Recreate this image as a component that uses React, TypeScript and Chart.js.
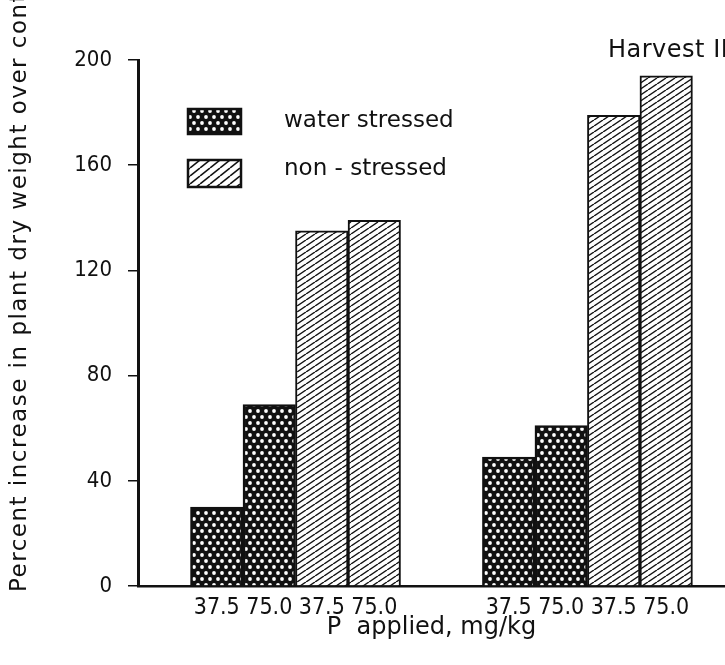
import React, { useEffect, useRef } from "react";
import { Chart, registerables } from "chart.js";

Chart.register(...registerables);

// ---- data ----
const doseLabels = ["37.5", "75.0"];
const treatments = ["water stressed", "non - stressed"];
// values per group: [37.5, 75.0]
const waterStressed = [
  [30, 69],
  [49, 61],
];
const nonStressed = [
  [135, 139],
  [179, 194],
];
const yTicks = [0, 40, 80, 120, 160, 200];
const yTitle = "Percent increase in plant dry weight over control";
const xTitle = "P  applied, mg/kg";
const harvestLabel = "Harvest II";

// ---- layout constants (bar units on the x axis) ----
const LEAD = 1.0;
const GROUP_GAP = 1.56;
const X_MAX = 11.18;
const BARS_PER_GROUP = 4;

const barX = (group: number, slot: number) =>
  LEAD + group * (BARS_PER_GROUP + GROUP_GAP) + slot + 0.5;

const FONT_COND = '"DejaVu Sans Condensed", "Liberation Sans Narrow", "DejaVu Sans", sans-serif';
const FONT = '"DejaVu Sans", sans-serif';

function makeDotPattern(): CanvasPattern | string {
  const c = document.createElement("canvas");
  c.width = 8;
  c.height = 12;
  const g = c.getContext("2d");
  if (!g) return "#111";
  g.fillStyle = "#111";
  g.fillRect(0, 0, 8, 12);
  g.fillStyle = "#fff";
  const dots = [
    [2, 3],
    [6, 9],
  ];
  dots.forEach(([x, y]) => {
    g.beginPath();
    g.arc(x, y, 1.9, 0, Math.PI * 2);
    g.fill();
  });
  return g.createPattern(c, "repeat") as CanvasPattern;
}

function makeHatchPattern(W: number, H: number, lw: number): CanvasPattern | string {
  const c = document.createElement("canvas");
  c.width = W;
  c.height = H;
  const g = c.getContext("2d");
  if (!g) return "#fff";
  g.fillStyle = "#fff";
  g.fillRect(0, 0, W, H);
  g.strokeStyle = "#111";
  g.lineWidth = lw;
  [-W, 0, W].forEach((dx) => {
    g.beginPath();
    g.moveTo(dx, H);
    g.lineTo(dx + W, 0);
    g.stroke();
  });
  return g.createPattern(c, "repeat") as CanvasPattern;
}

export default function App() {
  const ref = useRef<HTMLCanvasElement | null>(null);

  useEffect(() => {
    document.body.style.margin = "0";
    document.body.style.overflow = "hidden";
    document.body.style.background = "#fff";
    const canvas = ref.current;
    if (!canvas) return;

    const dotPat = makeDotPattern();
    const hatchPat = makeHatchPattern(9, 6, 1.4);
    const legendHatch = makeHatchPattern(10, 8, 1.6);

    const wsData: { x: number; y: number }[] = [];
    const nsData: { x: number; y: number }[] = [];
    const tickLabelMap = new Map<number, string>();
    waterStressed.forEach((vals, g) => {
      vals.forEach((v, i) => {
        const x = barX(g, i);
        wsData.push({ x, y: v });
        tickLabelMap.set(x, doseLabels[i]);
      });
    });
    nonStressed.forEach((vals, g) => {
      vals.forEach((v, i) => {
        const x = barX(g, doseLabels.length + i);
        nsData.push({ x, y: v });
        tickLabelMap.set(x, doseLabels[i]);
      });
    });
    const tickXs = Array.from(tickLabelMap.keys()).sort((a, b) => a - b);

    const overlay = {
      id: "overlay",
      afterDraw(chart: any) {
        const ctx = chart.ctx as CanvasRenderingContext2D & { letterSpacing?: string };
        ctx.save();
        // y title
        ctx.save();
        ctx.translate(20, 592);
        ctx.rotate(-Math.PI / 2);
        ctx.font = `23px ${FONT}`;
        ctx.letterSpacing = "1.5px";
        ctx.fillStyle = "#111";
        ctx.textAlign = "left";
        ctx.textBaseline = "middle";
        ctx.fillText(yTitle, 0, 0);
        ctx.restore();

        // harvest label
        ctx.font = `24px ${FONT}`;
        ctx.letterSpacing = "0.5px";
        ctx.fillStyle = "#111";
        ctx.textAlign = "left";
        ctx.textBaseline = "middle";
        ctx.fillText(harvestLabel, 608, 51);
        ctx.letterSpacing = "0px";

        // legend
        const items = [
          { fill: dotPat, y: 109, h: 25, label: treatments[0], ty: 121 },
          { fill: legendHatch, y: 160, h: 27, label: treatments[1], ty: 169 },
        ];
        items.forEach((it) => {
          ctx.fillStyle = it.fill as any;
          ctx.fillRect(188, it.y, 53, it.h);
          ctx.strokeStyle = "#111";
          ctx.lineWidth = 2.5;
          ctx.strokeRect(188, it.y, 53, it.h);
          ctx.fillStyle = "#111";
          ctx.font = `23px ${FONT}`;
          ctx.textAlign = "left";
          ctx.textBaseline = "middle";
          ctx.fillText(it.label, 284, it.ty);
        });
        ctx.restore();
      },
    };

    const chart = new Chart(canvas, {
      type: "bar",
      data: {
        datasets: [
          {
            label: treatments[0],
            data: wsData,
            backgroundColor: dotPat as any,
            borderColor: "#111",
            borderWidth: 2.5,
          },
          {
            label: treatments[1],
            data: nsData,
            backgroundColor: hatchPat as any,
            borderColor: "#111",
            borderWidth: 2,
          },
        ],
      },
      options: {
        animation: false,
        responsive: true,
        maintainAspectRatio: false,
        layout: { padding: { top: 60, left: 0, right: 0, bottom: 0 } },
        plugins: {
          legend: { display: false },
          tooltip: { enabled: false },
        },
        datasets: {
          bar: {
            grouped: false,
            barPercentage: 1,
            categoryPercentage: 1,
          },
        },
        scales: {
          x: {
            type: "linear",
            min: 0,
            max: X_MAX,
            offset: false,
            grid: { display: false, drawTicks: false, drawOnChartArea: false },
            border: { display: true, color: "#111", width: 2.5 },
            afterBuildTicks: (scale: any) => {
              scale.ticks = tickXs.map((v) => ({ value: v }));
            },
            afterFit: (scale: any) => {
              scale.height = 79;
            },
            ticks: {
              autoSkip: false,
              maxRotation: 0,
              padding: 8,
              color: "#111",
              font: { family: FONT_COND, size: 23 },
              callback: (v: any) => tickLabelMap.get(Number(v)) ?? "",
            },
            title: {
              display: true,
              text: xTitle,
              color: "#111",
              font: { family: FONT, size: 24 },
              padding: { top: 0, bottom: 23 },
            },
          },
          y: {
            type: "linear",
            min: 0,
            max: 200,
            afterBuildTicks: (scale: any) => {
              scale.ticks = yTicks.map((v) => ({ value: v }));
            },
            afterFit: (scale: any) => {
              scale.width = 138;
            },
            grid: {
              drawOnChartArea: false,
              drawTicks: true,
              tickLength: 10,
              color: "#111",
              lineWidth: 1.5,
            },
            border: { display: true, color: "#111", width: 3 },
            ticks: {
              padding: 16,
              color: "#111",
              font: { family: FONT_COND, size: 22 },
            },
          },
        },
      },
      plugins: [overlay],
    });

    return () => chart.destroy();
  }, []);

  return (
    <div style={{ width: 725, height: 665, position: "relative", background: "#fff" }}>
      <canvas ref={ref} />
    </div>
  );
}
